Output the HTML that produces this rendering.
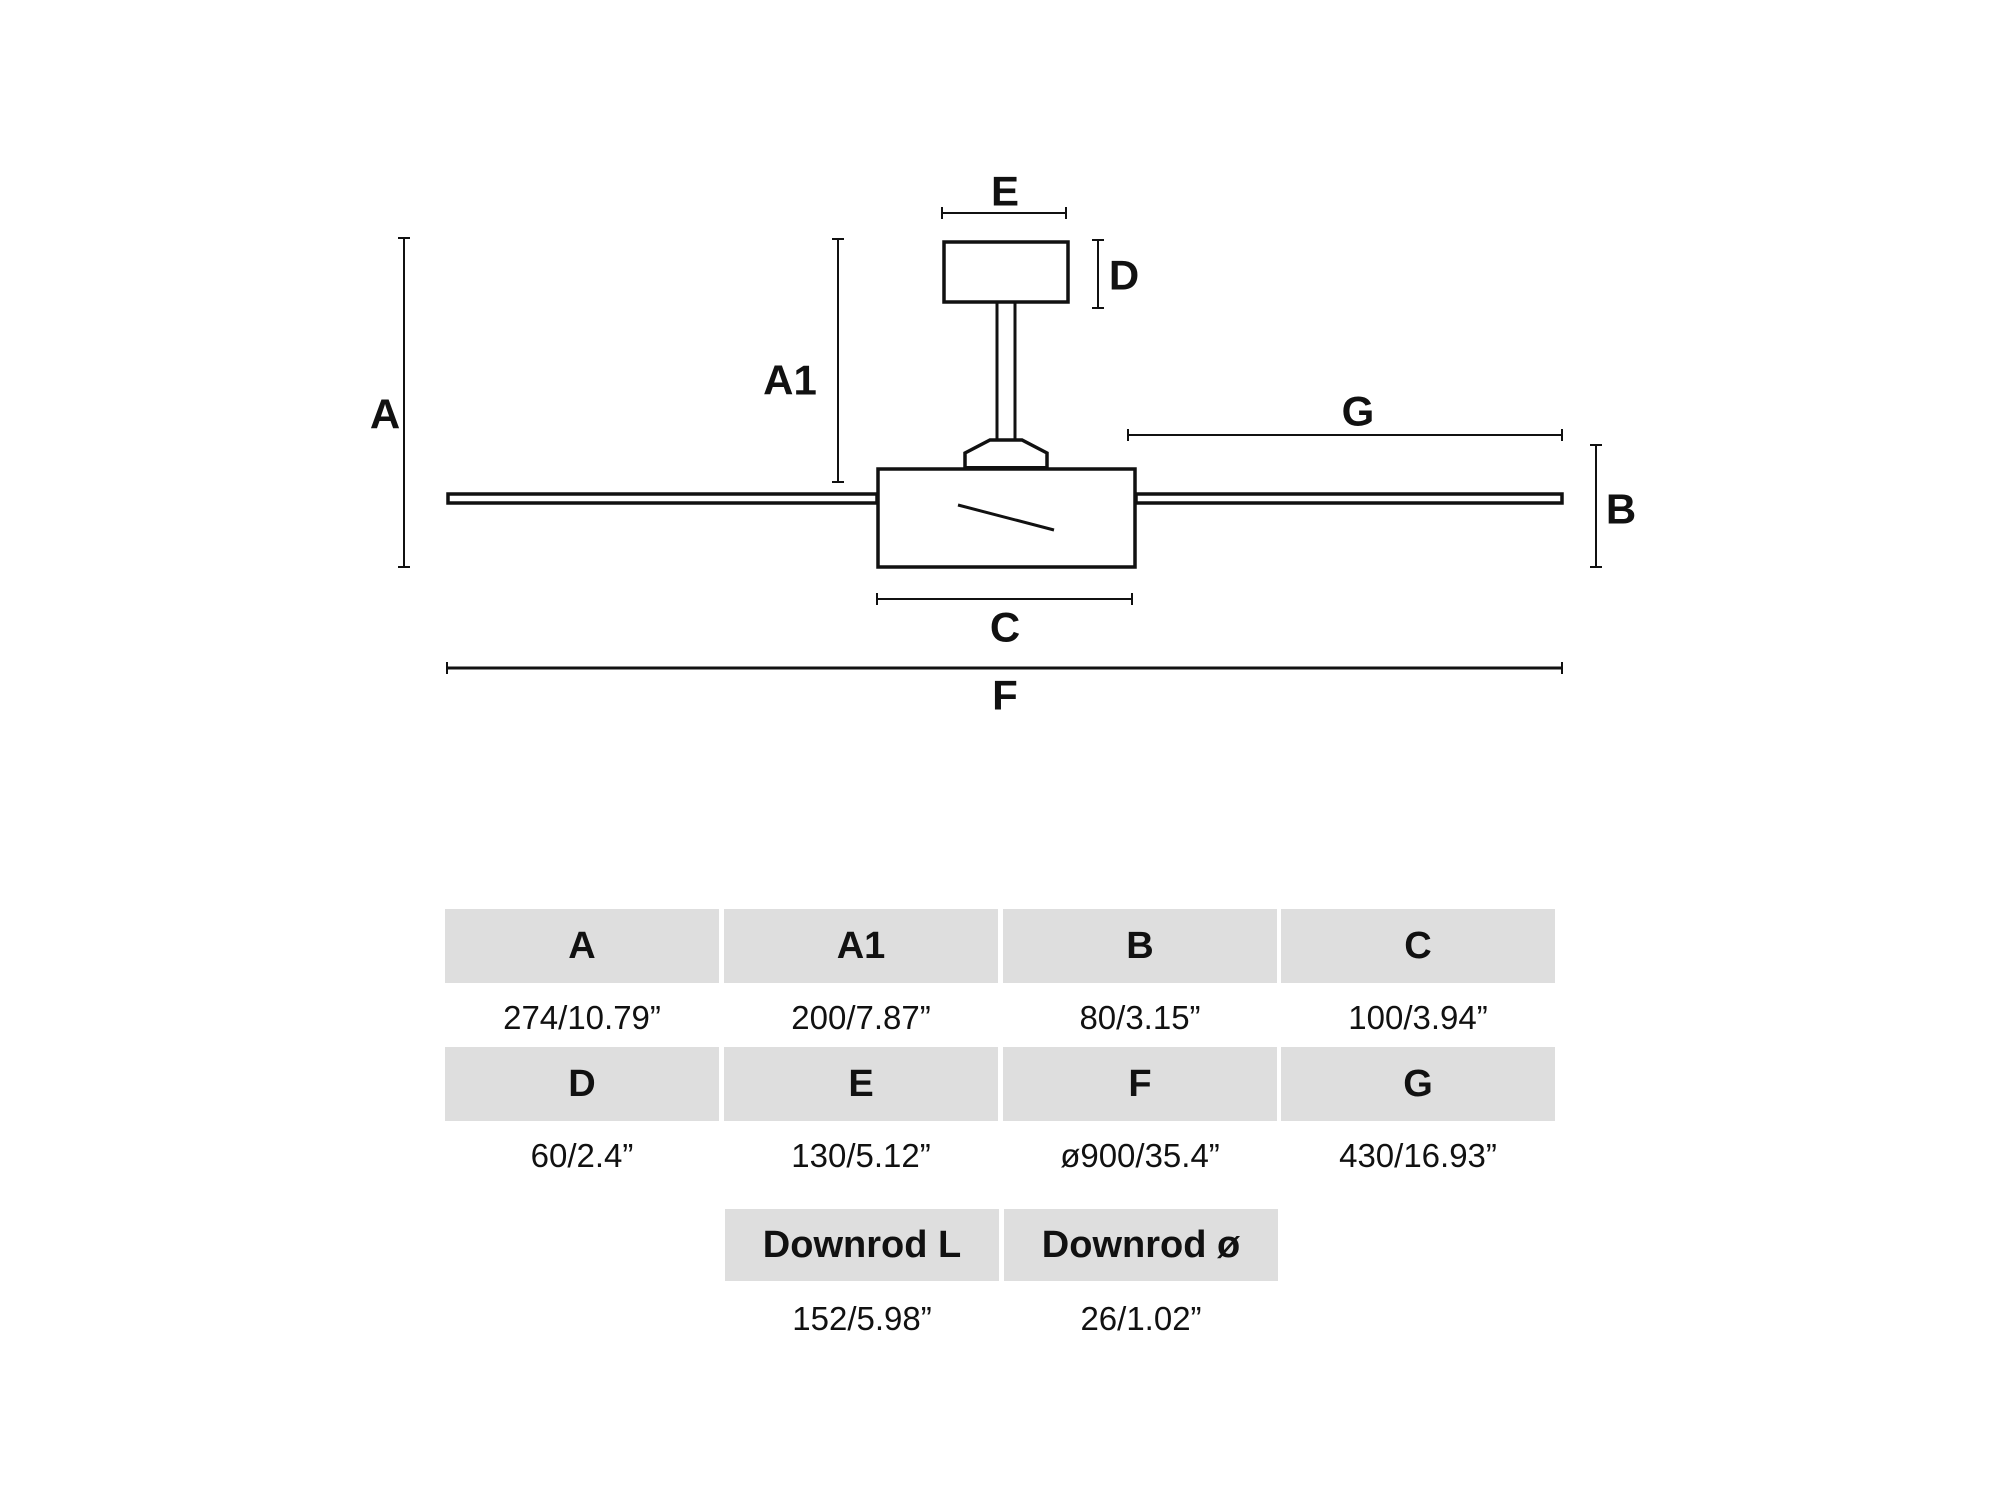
<!DOCTYPE html>
<html><head><meta charset="utf-8"><style>
html,body{margin:0;padding:0;background:#fff;}
body{width:2004px;height:1503px;position:relative;overflow:hidden;font-family:"Liberation Sans",sans-serif;}
.c{position:absolute;background:#dedede;display:flex;align-items:center;justify-content:center;font-weight:bold;font-size:38px;color:#111;}
.v{position:absolute;text-align:center;font-size:33px;color:#111;transform:translateY(-50%);}
</style></head><body>
<svg width="2004" height="1503" style="position:absolute;left:0;top:0" xmlns="http://www.w3.org/2000/svg">
<g stroke="#111" fill="none">
<g stroke-width="2">
<line x1="404" y1="238" x2="404" y2="567"/><line x1="398" y1="238" x2="410" y2="238"/><line x1="398" y1="567" x2="410" y2="567"/>
<line x1="838" y1="239" x2="838" y2="482"/><line x1="832" y1="239" x2="844" y2="239"/><line x1="832" y1="482" x2="844" y2="482"/>
<line x1="942" y1="213" x2="1066" y2="213"/><line x1="942" y1="207" x2="942" y2="219"/><line x1="1066" y1="207" x2="1066" y2="219"/>
<line x1="1098" y1="240" x2="1098" y2="308"/><line x1="1092" y1="240" x2="1104" y2="240"/><line x1="1092" y1="308" x2="1104" y2="308"/>
<line x1="1128" y1="435" x2="1562" y2="435"/><line x1="1128" y1="429" x2="1128" y2="441"/><line x1="1562" y1="429" x2="1562" y2="441"/>
<line x1="1596" y1="445" x2="1596" y2="567"/><line x1="1590" y1="445" x2="1602" y2="445"/><line x1="1590" y1="567" x2="1602" y2="567"/>
<line x1="877" y1="599" x2="1132" y2="599"/><line x1="877" y1="593" x2="877" y2="605"/><line x1="1132" y1="593" x2="1132" y2="605"/>
</g>
<line x1="447" y1="668" x2="1562" y2="668" stroke-width="3"/><line x1="447" y1="662" x2="447" y2="674" stroke-width="2"/><line x1="1562" y1="662" x2="1562" y2="674" stroke-width="2"/>
<rect x="944" y="242" width="124" height="60" stroke-width="3.5"/>
<line x1="997" y1="302" x2="997" y2="440" stroke-width="3"/>
<line x1="1015" y1="302" x2="1015" y2="440" stroke-width="3"/>
<polygon points="990,440 1022,440 1047,453 1047,469 965,469 965,453" stroke-width="3.5" fill="#fff"/>
<line x1="966" y1="469" x2="1046" y2="469" stroke-width="6"/>
<rect x="448" y="494" width="429" height="9" stroke-width="3.5"/>
<rect x="1136" y="494" width="426" height="9" stroke-width="3.5"/>
<rect x="878" y="469" width="257" height="98" stroke-width="3.5" fill="#fff"/>
<line x1="958" y1="505" x2="1054" y2="530" stroke-width="3"/>
</g>
<g font-family="Liberation Sans, sans-serif" font-weight="bold" font-size="42" fill="#111" text-anchor="middle" dominant-baseline="central">
<text x="385" y="414">A</text>
<text x="790" y="380">A1</text>
<text x="1005" y="191">E</text>
<text x="1124" y="275">D</text>
<text x="1358" y="411">G</text>
<text x="1621" y="509">B</text>
<text x="1005" y="627">C</text>
<text x="1005" y="695">F</text>
</g>
</svg>
<div class="c" style="left:445px;top:909px;width:274px;height:74px">A</div>
<div class="c" style="left:724px;top:909px;width:274px;height:74px">A1</div>
<div class="c" style="left:1003px;top:909px;width:274px;height:74px">B</div>
<div class="c" style="left:1281px;top:909px;width:274px;height:74px">C</div>
<div class="v" style="left:445px;top:1018px;width:274px">274/10.79”</div>
<div class="v" style="left:724px;top:1018px;width:274px">200/7.87”</div>
<div class="v" style="left:1003px;top:1018px;width:274px">80/3.15”</div>
<div class="v" style="left:1281px;top:1018px;width:274px">100/3.94”</div>
<div class="c" style="left:445px;top:1047px;width:274px;height:74px">D</div>
<div class="c" style="left:724px;top:1047px;width:274px;height:74px">E</div>
<div class="c" style="left:1003px;top:1047px;width:274px;height:74px">F</div>
<div class="c" style="left:1281px;top:1047px;width:274px;height:74px">G</div>
<div class="v" style="left:445px;top:1156px;width:274px">60/2.4”</div>
<div class="v" style="left:724px;top:1156px;width:274px">130/5.12”</div>
<div class="v" style="left:1003px;top:1156px;width:274px">ø900/35.4”</div>
<div class="v" style="left:1281px;top:1156px;width:274px">430/16.93”</div>
<div class="c" style="left:725px;top:1209px;width:274px;height:72px">Downrod L</div>
<div class="c" style="left:1004px;top:1209px;width:274px;height:72px">Downrod ø</div>
<div class="v" style="left:725px;top:1319px;width:274px">152/5.98”</div>
<div class="v" style="left:1004px;top:1319px;width:274px">26/1.02”</div>
</body></html>
